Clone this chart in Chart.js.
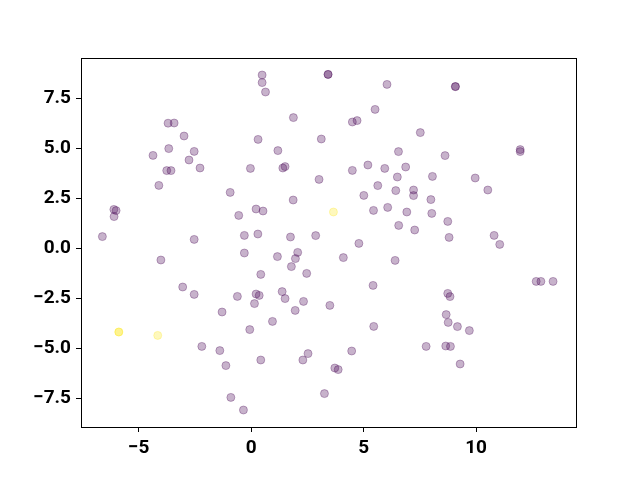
<!DOCTYPE html>
<html>
<head>
<meta charset="utf-8">
<script src="https://cdn.jsdelivr.net/npm/chart.js@4"></script>
<style>
  body { margin: 0; background: #fff; }
</style>
</head>
<body>
<canvas id="scatterChart" width="640" height="480"></canvas>
<script>
    // values
    var purpleX = [-3.69, -3.42, -2.98, -3.66, -4.36, -2.53, -2.76, -2.27, -3.75, -3.56,
        -4.1, -0.93, -6.1, -6.0, -6.09, -0.55, -6.61, -2.53, -0.3, -0.03,
        0.49, 0.49, 0.64, 3.42, 3.42, 6.04, 1.88, 5.51, 4.5, 4.71,
        0.31, 3.12, 1.19, 6.55, 1.41, 1.51, 4.5, 5.19, 5.94, 6.87,
        3.02, 6.5, 5.63, 7.22, 7.22, 6.43, 5.01, 1.87, 0.22, 0.53,
        5.44, 6.07, 6.92, 6.56, 7.27, 0.3, 1.75, 2.87, 4.79, 9.08,
        9.08, 7.52, 11.96, 11.96, 8.62, 8.06, 9.96, 10.52, 7.99, 8.03,
        8.74, 8.8, 10.8, 11.05, -0.3, -4.01, -3.04, -2.53, -0.61, -1.29,
        -2.19, -1.39, -1.12, -0.9, -0.34, 1.17, 2.07, 1.97, 1.79, 2.47,
        4.1, 6.4, 0.43, 5.42, 0.22, 0.36, 0.15, 1.38, 1.51, 2.33,
        1.96, 3.5, 0.95, -0.06, 5.45, 4.47, 2.53, 2.3, 0.43, 3.72,
        3.87, 3.26, 12.67, 12.88, 13.42, 8.74, 8.84, 8.67, 8.76, 9.17,
        9.7, 7.78, 8.65, 8.86, 9.29];
    var purpleY = [6.24, 6.25, 5.6, 4.97, 4.63, 4.83, 4.4, 4.0, 3.87, 3.87,
        3.13, 2.78, 1.93, 1.87, 1.57, 1.63, 0.57, 0.43, 0.63, 3.98,
        8.65, 8.27, 7.8, 8.68, 8.68, 8.18, 6.52, 6.93, 6.3, 6.37,
        5.43, 5.45, 4.87, 4.82, 4.0, 4.07, 3.88, 4.15, 3.98, 4.05,
        3.43, 3.55, 3.12, 2.9, 2.62, 2.87, 2.63, 2.4, 1.95, 1.85,
        1.88, 2.03, 1.8, 1.13, 0.9, 0.7, 0.55, 0.62, 0.23, 8.07,
        8.07, 5.77, 4.92, 4.82, 4.62, 3.58, 3.5, 2.9, 2.42, 1.73,
        1.33, 0.53, 0.63, 0.18, -0.25, -0.6, -1.95, -2.32, -2.42, -3.2,
        -4.92, -5.13, -5.88, -7.47, -8.1, -0.43, -0.22, -0.53, -0.93, -1.27,
        -0.48, -0.62, -1.32, -1.87, -2.3, -2.37, -2.78, -2.18, -2.53, -2.67,
        -3.12, -2.87, -3.67, -4.08, -3.92, -5.15, -5.28, -5.6, -5.6, -6.0,
        -6.08, -7.28, -1.67, -1.67, -1.67, -2.27, -2.43, -3.33, -3.72, -3.93,
        -4.13, -4.92, -4.9, -4.92, -5.8];
    var yellowX = [3.66, -5.88, -5.88, -4.15];
    var yellowY = [1.8, -4.2, -4.2, -4.37];

    var xTicks = [-5, 0, 5, 10];
    var yTicks = [-7.5, -5.0, -2.5, 0.0, 2.5, 5.0, 7.5];

    function toPoints(xs, ys) {
        return xs.map(function(x, i) { return { x: x, y: ys[i] }; });
    }

    function minusSign(text) {
        return text.replace('-', '\u2212');
    }

    var tickFont = { family: 'Roboto', size: 19, weight: 'bold' };

    // matplotlib draws a full box around the axes
    var frame = {
        id: 'frame',
        afterDraw: function(chart) {
            var a = chart.chartArea;
            var ctx = chart.ctx;
            ctx.save();
            ctx.strokeStyle = '#000';
            ctx.lineWidth = 1;
            ctx.strokeRect(Math.round(a.left) + 0.5, Math.round(a.top) + 0.5,
                Math.round(a.right - a.left), Math.round(a.bottom - a.top));
            ctx.restore();
        }
    };

    var ctx = document.getElementById('scatterChart').getContext('2d');
    var scatterChart = new Chart(ctx, {
        type: 'scatter',
        data: {
            datasets: [{
                data: toPoints(purpleX, purpleY),
                backgroundColor: 'rgba(68, 1, 84, 0.3)',
                borderColor: 'rgba(68, 1, 84, 0.3)',
                borderWidth: 1,
                pointRadius: 4
            }, {
                data: toPoints(yellowX, yellowY),
                backgroundColor: 'rgba(253, 231, 37, 0.3)',
                borderColor: 'rgba(253, 231, 37, 0.3)',
                borderWidth: 1,
                pointRadius: 4
            }]
        },
        options: {
            responsive: false,
            animation: false,
            layout: {
                padding: { left: 0, right: 64, top: 58, bottom: 0 }
            },
            scales: {
                x: {
                    type: 'linear',
                    min: -7.56,
                    max: 14.44,
                    afterBuildTicks: function(scale) {
                        scale.ticks = xTicks.map(function(v) { return { value: v }; });
                    },
                    afterFit: function(scale) { scale.height = 53; },
                    grid: { drawOnChartArea: false, drawTicks: true, tickLength: 5, color: '#000' },
                    border: { display: true, color: '#000' },
                    ticks: {
                        color: '#000',
                        font: tickFont,
                        padding: 5,
                        maxRotation: 0,
                        callback: function(v) { return minusSign(String(v)); }
                    }
                },
                y: {
                    type: 'linear',
                    min: -8.95,
                    max: 9.5,
                    afterBuildTicks: function(scale) {
                        scale.ticks = yTicks.map(function(v) { return { value: v }; });
                    },
                    afterFit: function(scale) { scale.width = 81; },
                    grid: { drawOnChartArea: false, drawTicks: true, tickLength: 5, color: '#000' },
                    border: { display: true, color: '#000' },
                    ticks: {
                        color: '#000',
                        font: tickFont,
                        padding: 5,
                        callback: function(v) { return minusSign(Number(v).toFixed(1)); }
                    }
                }
            },
            plugins: {
                legend: { display: false },
                tooltip: { enabled: false }
            }
        },
        plugins: [frame]
    });
</script>
</body>
</html>
